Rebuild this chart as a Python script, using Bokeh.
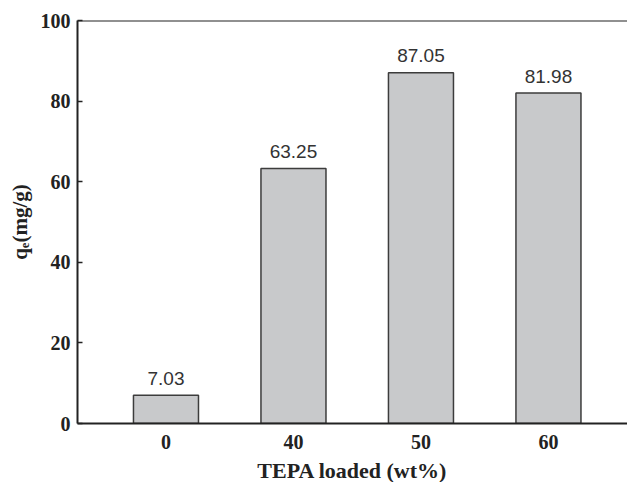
from bokeh.plotting import figure
from bokeh.models import ColumnDataSource, Range1d, FixedTicker, Span
from bokeh.core.properties import value
from bokeh.embed import file_html
from bokeh.resources import INLINE

categories = ["0", "40", "50", "60"]
values = [7.03, 63.25, 87.05, 81.98]
y_ticks = [0, 20, 40, 60, 80, 100]

xs = list(range(len(categories)))
src = ColumnDataSource(dict(x=xs, top=values, lab=["%.2f" % v for v in values]))

p = figure(frame_width=550, frame_height=403, output_backend="svg", toolbar_location=None,
           x_range=Range1d(-0.694, 3.62), y_range=Range1d(0, 100),
           min_border_left=77, min_border_right=0, min_border_top=20, min_border_bottom=59)
p.outline_line_color = None
p.xgrid.visible = False
p.ygrid.visible = False
p.background_fill_color = "white"

p.vbar(x="x", top="top", bottom=0, width=0.51, source=src,
       fill_color="#c8c9cb", line_color="#3c3c3c", line_width=1.5)
p.text(x="x", y="top", text="lab", source=src, text_align="center", text_baseline="alphabetic",
       y_offset=-17, text_font=value("Liberation Sans"), text_font_size="19px", text_color="#333333")

serif = "Liberation Serif"
xa = p.xaxis[0]
xa.ticker = FixedTicker(ticks=xs)
xa.major_label_overrides = {i: c for i, c in enumerate(categories)}
xa.major_tick_line_color = None
xa.minor_tick_line_color = None
xa.axis_line_width = 2
xa.axis_line_color = "#222222"
xa.major_label_text_font = serif
xa.major_label_text_font_style = "bold"
xa.major_label_text_font_size = "20px"
xa.major_label_text_color = "#222222"
xa.major_label_standoff = 5
xa.axis_label = "TEPA loaded (wt%)"
xa.axis_label_text_font = serif
xa.axis_label_text_font_style = "bold"
xa.axis_label_text_font_size = "22px"
xa.axis_label_text_color = "#222222"
xa.axis_label_standoff = 6

ya = p.yaxis[0]
ya.ticker = FixedTicker(ticks=y_ticks)
ya.minor_tick_line_color = None
ya.major_tick_in = 5
ya.major_tick_out = 0
ya.major_tick_line_width = 1.5
ya.major_tick_line_color = "#222222"
ya.axis_line_width = 2
ya.axis_line_color = "#222222"
ya.major_label_text_font = serif
ya.major_label_text_font_style = "bold"
ya.major_label_text_font_size = "20px"
ya.major_label_text_color = "#222222"
ya.major_label_standoff = 7
ya.axis_label = "q\u2091(mg/g)"
ya.axis_label_text_font = serif
ya.axis_label_text_font_style = "bold"
ya.axis_label_text_font_size = "21px"
ya.axis_label_text_color = "#222222"
ya.axis_label_standoff = 6

p.add_layout(Span(location=100, dimension="width", line_color="#222222", line_width=2))

open("out.html", "w").write(file_html(p, INLINE))
